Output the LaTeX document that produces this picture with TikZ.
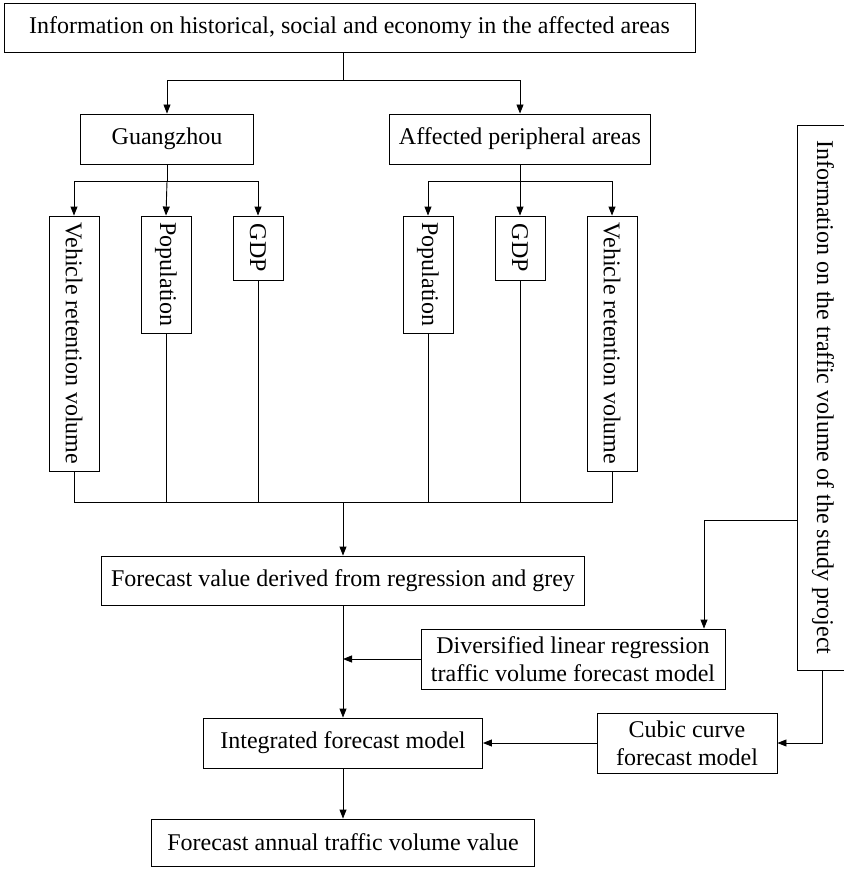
\documentclass[tikz,border=0pt]{standalone}
\usepackage{fontspec}
\setmainfont{Liberation Serif}
\usetikzlibrary{arrows.meta}
\begin{document}
\begin{tikzpicture}[x=1pt,y=-1pt,
  box/.style={draw, line width=0.9pt, inner sep=0pt, align=center, font=\fontsize{24}{28}\selectfont},
  arr/.style={line width=0.9pt, -{Triangle[length=9pt,width=7pt]}},
  ln/.style={line width=0.9pt}]
\useasboundingbox (0,0) rectangle (843,869);
\node[box, minimum width=691, minimum height=49] (top) at (349.5,27.5) {Information on historical, social and economy in the affected areas};
\node[box, minimum width=173, minimum height=50] (gz) at (167,139) {Guangzhou};
\node[box, minimum width=261, minimum height=50] (ap) at (520,139) {Affected peripheral areas};
\node[box, minimum width=50, minimum height=255] (vl) at (74,343.5) {\rotatebox{-90}{Vehicle retention volume}};
\node[box, minimum width=50, minimum height=117] (pl) at (166,274.5) {\rotatebox{-90}{Population}};
\node[box, minimum width=50, minimum height=64] (gl) at (258,248) {\rotatebox{-90}{GDP}};
\node[box, minimum width=50, minimum height=117] (pr) at (428,274.5) {\rotatebox{-90}{Population}};
\node[box, minimum width=50, minimum height=64] (gr) at (520,248) {\rotatebox{-90}{GDP}};
\node[box, minimum width=50, minimum height=255] (vr) at (612,343.5) {\rotatebox{-90}{Vehicle retention volume}};
\node[box, minimum width=483, minimum height=49] (fv) at (343,580.5) {Forecast value derived from regression and grey};
\node[box, minimum width=304, minimum height=60] (dl) at (573,659) {Diversified linear regression\\traffic volume forecast model};
\node[box, minimum width=279, minimum height=50] (int) at (343,743) {Integrated forecast model};
\node[box, minimum width=180, minimum height=60] (cc) at (687,743) {Cubic curve\\forecast model};
\node[box, minimum width=383, minimum height=47] (fa) at (343,842.5) {Forecast annual traffic volume value};
\node[box, minimum width=52, minimum height=545] (rb) at (823,397.5) {\rotatebox{-90}{Information on the traffic volume of the study project}};
% top branching
\coordinate (j1) at (343,80);
\draw[ln] (top.south -| j1) -- (j1);
\draw[arr] (j1) -| (gz.north);
\draw[arr] (j1) -| (ap.north);
\coordinate (j2) at (167,181);
\draw[ln] (gz.south) -- (j2);
\draw[arr] (j2) -| (vl.north);
\draw[arr] (j2) -- (pl.north);
\draw[arr] (j2) -| (gl.north);
\coordinate (j3) at (520,181);
\draw[ln] (ap.south) -- (j3);
\draw[arr] (j3) -| (pr.north);
\draw[arr] (j3) -- (gr.north);
\draw[arr] (j3) -| (vr.north);
% bottom collection
\coordinate (j4) at (343,502);
\draw[ln] (vl.south) |- (j4);
\draw[ln] (pl.south) |- (j4);
\draw[ln] (gl.south) |- (j4);
\draw[ln] (pr.south) |- (j4);
\draw[ln] (gr.south) |- (j4);
\draw[ln] (vr.south) |- (j4);
\draw[arr] (j4) -- (fv.north);
\draw[arr] (fv.south) -- (int.north);
\draw[arr] (dl.west) -- (dl.west -| fv.south);
\draw[arr] (cc.west) -- (int.east);
\draw[arr] (int.south) -- (fa.north);
% right source
\coordinate (k1) at (704,520);
\draw[arr] (rb.west |- k1) -- (k1) -- (k1 |- dl.north);
\coordinate (k2) at (822,743);
\draw[arr] (rb.south -| k2) -- (k2) -- (cc.east);
\end{tikzpicture}
\end{document}
